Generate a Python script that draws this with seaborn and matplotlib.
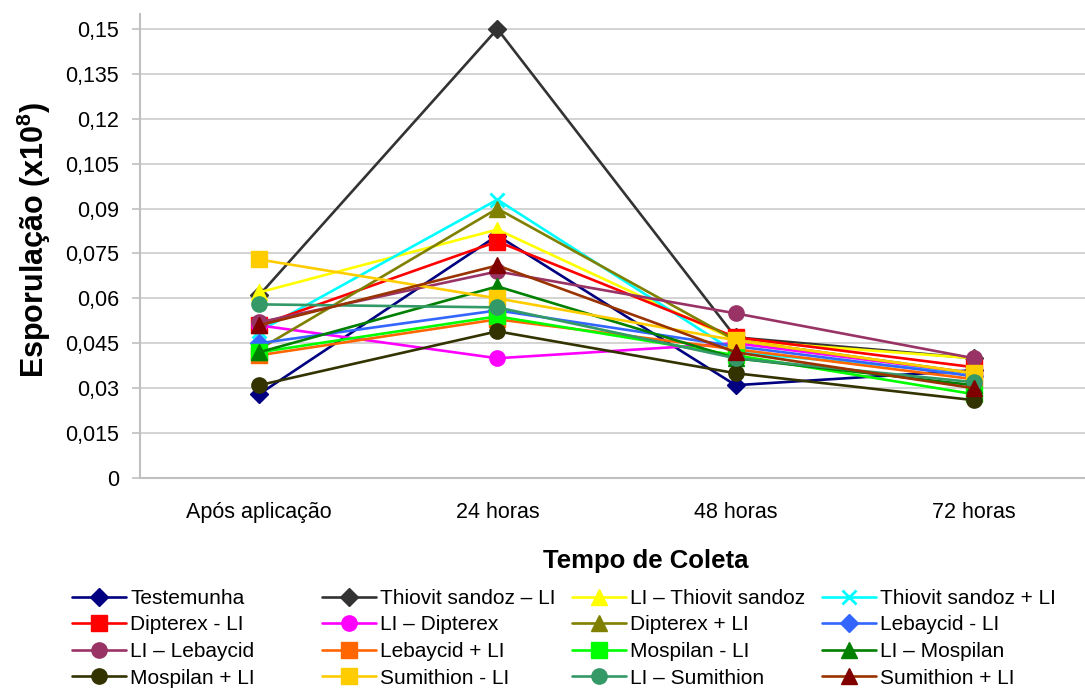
import numpy as np
import pandas as pd
import seaborn as sns
import matplotlib
matplotlib.use("Agg")
import matplotlib.pyplot as plt

# Dados
tempos = ["Após aplicação", "24 horas", "48 horas", "72 horas"]

testemunha = [0.028, 0.081, 0.031, 0.036]
thiovit_li = [0.061, 0.150, 0.047, 0.040]
li_thiovit = [0.062, 0.083, 0.046, 0.040]
thiovit_mais_li = [0.049, 0.093, 0.042, 0.035]
dipterex_li = [0.051, 0.079, 0.047, 0.037]
li_dipterex = [0.051, 0.040, 0.045, 0.035]
dipterex_mais_li = [0.043, 0.090, 0.046, 0.035]
lebaycid_li = [0.045, 0.056, 0.044, 0.034]
li_lebaycid = [0.052, 0.069, 0.055, 0.040]
lebaycid_mais_li = [0.041, 0.053, 0.043, 0.033]
mospilan_li = [0.042, 0.054, 0.041, 0.028]
li_mospilan = [0.042, 0.064, 0.040, 0.031]
mospilan_mais_li = [0.031, 0.049, 0.035, 0.026]
sumithion_li = [0.073, 0.060, 0.046, 0.035]
li_sumithion = [0.058, 0.057, 0.040, 0.032]
sumithion_mais_li = [0.051, 0.071, 0.042, 0.030]

nomes = ["Testemunha", "Thiovit sandoz – LI", "LI – Thiovit sandoz", "Thiovit sandoz + LI",
         "Dipterex - LI", "LI – Dipterex", "Dipterex + LI", "Lebaycid - LI",
         "LI – Lebaycid", "Lebaycid + LI", "Mospilan - LI", "LI – Mospilan",
         "Mospilan + LI", "Sumithion - LI", "LI – Sumithion", "Sumithion + LI"]
series = [testemunha, thiovit_li, li_thiovit, thiovit_mais_li,
          dipterex_li, li_dipterex, dipterex_mais_li, lebaycid_li,
          li_lebaycid, lebaycid_mais_li, mospilan_li, li_mospilan,
          mospilan_mais_li, sumithion_li, li_sumithion, sumithion_mais_li]

y_ticks = [0, 0.015, 0.03, 0.045, 0.06, 0.075, 0.09, 0.105, 0.12, 0.135, 0.15]
y_tick_labels = ["0", "0,015", "0,03", "0,045", "0,06", "0,075", "0,09", "0,105",
                 "0,12", "0,135", "0,15"]

# estilo de cada série: (cor da linha, cor do marcador, marcador)
estilos = [("#000080", "#000080", "D"), ("#333333", "#333333", "D"),
           ("#FFFF00", "#FFFF00", "^"), ("#00FFFF", "#00FFFF", "x"),
           ("#FF0000", "#FF0000", "s"), ("#FF00FF", "#FF00FF", "o"),
           ("#808000", "#808000", "^"), ("#3366FF", "#3366FF", "D"),
           ("#993366", "#993366", "o"), ("#FF6600", "#FF6600", "s"),
           ("#00FF00", "#00FF00", "s"), ("#008000", "#008000", "^"),
           ("#333300", "#333300", "o"), ("#FFCC00", "#FFCC00", "s"),
           ("#339966", "#339966", "o"), ("#993300", "#800000", "^")]

sns.set_theme(style="white")
plt.rcParams["font.family"] = ["Liberation Sans", "DejaVu Sans"]
plt.rcParams["mathtext.fontset"] = "custom"
plt.rcParams["mathtext.bf"] = "Liberation Sans:bold"
plt.rcParams["mathtext.rm"] = "Liberation Sans"
plt.rcParams["text.color"] = "black"
plt.rcParams["axes.labelcolor"] = "black"
plt.rcParams["xtick.color"] = "black"
plt.rcParams["ytick.color"] = "black"

fig = plt.figure(figsize=(10.85, 6.9), dpi=100)
ax = fig.add_axes([140 / 1085, 1 - 478 / 690, 953 / 1085, 464 / 690])

pos = np.arange(len(tempos))
handles = []
for nome, vals, (cl, cm, mk) in zip(nomes, series, estilos):
    ms = {"D": 9.5, "x": 10.5}.get(mk, 11)
    sns.lineplot(x=pos, y=vals, ax=ax, color=cl, marker=mk, markersize=ms,
                 markerfacecolor=cm, markeredgecolor=cm,
                 markeredgewidth=2 if mk == "x" else 1,
                 linewidth=1.9, label=nome, legend=False)
    handles.append(ax.lines[-1])

ax.set_xlim(-0.5, len(tempos) - 0.5)
ax.set_ylim(0, 0.155)
ax.set_xticks(pos)
ax.set_xticklabels(tempos, fontsize=15.5)
ax.set_xticks(np.arange(-0.5, len(tempos), 1), minor=True)
ax.set_yticks(y_ticks)
ax.set_yticklabels(y_tick_labels, fontsize=15.5)
ax.tick_params(axis="x", which="major", length=0, pad=17)
ax.tick_params(axis="x", which="minor", length=6, color="#c0c0c0", width=1.2, direction="out")
ax.tick_params(axis="y", length=6, color="#c0c0c0", width=1.2, direction="out", pad=9, left=True)
ax.grid(axis="y", color="#c8c8c8", linewidth=1.1)
ax.set_axisbelow(True)
for s in ["top", "right"]:
    ax.spines[s].set_visible(False)
for s in ["left", "bottom"]:
    ax.spines[s].set_color("#c0c0c0")
    ax.spines[s].set_linewidth(1.5)

ax.set_xlabel("Tempo de Coleta", fontsize=18.5, fontweight="bold")
ax.xaxis.set_label_coords((646 - 140) / 953, (478 - 549) / 464)
ax.set_ylabel(r"Esporulação (x10$^\mathbf{8}$)", fontsize=22, fontweight="bold")
ax.yaxis.set_label_coords((53 - 140) / 953, (478 - 240) / 464)

# legenda em 4 colunas fixas, como no Excel
col_x = [72, 322, 572, 822]
for c in range(4):
    hs = [handles[r * 4 + c] for r in range(4)]
    fig.legend(hs, [h.get_label() for h in hs], loc="upper left",
               bbox_to_anchor=(col_x[c] / 1085, 1 - 589 / 690),
               frameon=False, fontsize=15, handlelength=2.6,
               handletextpad=0.2, labelspacing=0.36, borderaxespad=0,
               borderpad=0, numpoints=1)

fig.savefig("out.png", dpi=100)
